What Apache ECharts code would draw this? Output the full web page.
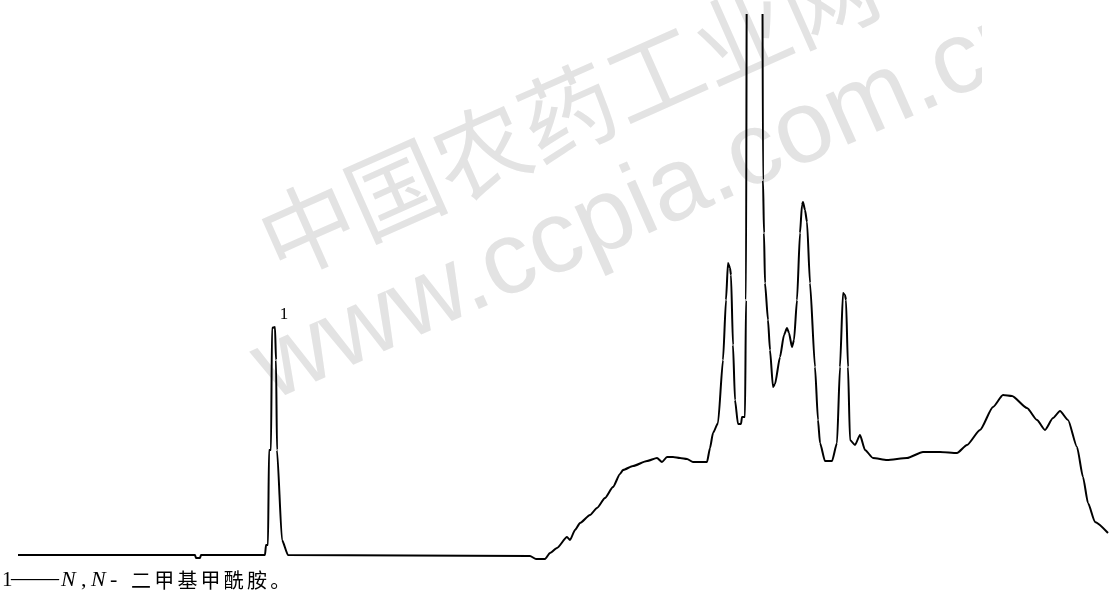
<!DOCTYPE html>
<html>
<head>
<meta charset="utf-8">
<style>
  html, body { margin: 0; padding: 0; background: #fff; }
  #chart { width: 1109px; height: 601px; }
</style>
<script src="https://cdn.jsdelivr.net/npm/echarts@6/dist/echarts.min.js"></script>
</head>
<body>
<div id="chart"></div>
<script>
// Chromatogram trace: retention time (arbitrary time units) and detector response.
const retentionTime = [
  0, 2.1, 8.85, 8.9, 9.1, 9.15, 11.6, 12.35, 12.4, 12.5, 12.55, 12.65, 12.7, 12.85,
  12.9, 12.95, 13.2, 13.5, 25.6, 25.9, 26.35, 26.6, 26.95, 27.45, 27.6, 27.85, 28.1,
  28.6, 28.95, 29.35, 29.75, 30.1, 30.25, 30.75, 31.45, 31.95, 32.2, 32.45, 32.75,
  33.1, 33.45, 33.75, 34.1, 34.45, 34.6, 34.75, 35.0, 35.25, 35.4, 35.5, 35.6, 35.65,
  35.75, 35.85, 36.0, 36.15, 36.2, 36.35, 36.4, 36.45, 36.55, 37.2, 37.25, 37.3,
  37.35, 37.5, 37.6, 37.75, 37.85, 38.1, 38.3, 38.45, 38.55, 38.7, 38.8, 38.95, 39.1,
  39.2, 39.25, 39.35, 39.45, 39.6, 39.85, 40.0, 40.1, 40.35, 40.7, 40.95, 41.1, 41.25,
  41.35, 41.4, 41.5, 41.6, 41.85, 42.1, 42.35, 42.75, 43.45, 44.45, 45.25, 46.1, 46.95,
  47.45, 48.1, 48.75, 49.25, 49.7, 50.45, 50.95, 51.35, 51.75, 52.1, 52.5, 52.95,
  53.25, 53.5, 53.85, 54.5
];
const response = [
  1.0, 1.0, 1.0, 0.4, 0.4, 1.0, 1.0, 1.0, 3.0, 3.0, 22.0, 22.0, 46.4, 46.6,
  40.0, 22.0, 4.0, 1.0, 0.8, 0.2, 0.2, 1.4, 2.4, 4.6, 4.0, 6.0, 7.4,
  9.0, 10.4, 12.4, 14.6, 17.2, 18.0, 18.8, 19.8, 20.4, 19.6, 20.6, 20.6,
  20.4, 20.2, 19.6, 19.6, 19.6, 22.4, 25.4, 27.4, 40.0, 52.0, 59.4, 58.4, 57.0,
  43.0, 32.0, 27.2, 27.2, 28.6, 28.6, 52.0, 140, 150, 150, 76.0, 65.4,
  55.4, 48.0, 42.0, 34.6, 35.2, 40.6, 45.0, 46.4, 45.4, 42.6, 44.0, 52.0, 65.4,
  71.0, 71.6, 70.0, 67.6, 55.4, 38.6, 28.0, 23.4, 19.8, 19.8, 23.4, 38.6, 53.4,
  53.0, 52.0, 38.6, 24.0, 23.0, 25.0, 22.0, 20.4, 20.0, 20.4, 21.6, 21.6, 21.4,
  23.0, 26.0, 30.6, 33.0, 32.8, 30.4, 28.0, 26.0, 28.4, 29.8, 28.0, 22.6,
  16.6, 11.4, 7.6, 5.4
];

// Peak annotation
const peakLabels = ['1'];
const peakTimes = [12.85];
const peakHeights = [46.6];

// Caption below the trace: peak number, dash, italic locants, compound name
const captionNumber = '1';
const captionDash = '——';
const captionLocant = 'N';
const captionCompound = '二甲基甲酰胺。';

// Site mark across the plot
const siteName = '中国农药工业网';
const siteUrl = 'www.ccpia.com.cn';

const chart = echarts.init(document.getElementById('chart'), null, { renderer: 'canvas' });

const trace = retentionTime.map((t, i) => [t, response[i]]);
const tilt = 24 * Math.PI / 180;

function textEl(x, y, text, font, extra) {
  return Object.assign({
    type: 'text', x: x, y: y, z: 10, silent: true,
    style: {
      text: text, font: font, fill: '#000',
      textVerticalAlign: 'middle', verticalAlign: 'middle'
    }
  }, extra || {});
}

// caption pieces
const caption = [
  textEl(2, 580, captionNumber, '21px "Liberation Serif"'),
  textEl(11, 579, captionDash, '24px "Liberation Serif"'),
  textEl(61, 580, captionLocant, 'italic 22px "Liberation Serif"'),
  textEl(81, 580, ',', '22px "Liberation Serif"'),
  textEl(91, 580, captionLocant, 'italic 22px "Liberation Serif"'),
  textEl(110, 580, '-', '22px "Liberation Serif"')
];
Array.from(captionCompound).forEach((ch, i) => {
  caption.push(textEl(131 + i * 23.2, 580, ch, '20px "Noto Sans CJK SC"'));
});

chart.setOption({
  animation: false,
  backgroundColor: '#ffffff',
  grid: { left: 18, right: 1, top: 15, bottom: 41 },
  xAxis: { type: 'value', min: 0, max: 54.5, show: false },
  yAxis: { type: 'value', min: 0, max: 109, show: false },
  graphic: [
    {
      type: 'text', x: 568, y: 112, rotation: tilt, z: 0, silent: true,
      style: {
        text: siteName,
        font: '95px "Noto Sans CJK SC"',
        fill: '#e3e3e3',
        textAlign: 'center', textVerticalAlign: 'middle',
        align: 'center', verticalAlign: 'middle'
      }
    },
    {
      type: 'text', x: 647, y: 203, rotation: tilt, z: 0, silent: true,
      style: {
        text: siteUrl,
        font: '103px "Liberation Sans"',
        fill: '#e3e3e3',
        textAlign: 'center', textVerticalAlign: 'middle',
        align: 'center', verticalAlign: 'middle'
      }
    },
    // the site mark stops at a hard right edge
    {
      type: 'rect', z: 1, silent: true,
      shape: { x: 982, y: 0, width: 127, height: 200 },
      style: { fill: '#ffffff' }
    }
  ].concat(caption),
  series: [
    {
      type: 'line',
      data: trace,
      showSymbol: false,
      symbol: 'none',
      clip: true,
      smooth: 0.2,
      smoothMonotone: 'x',
      z: 5,
      lineStyle: { color: '#000', width: 2, join: 'round' },
      markPoint: {
        symbol: 'circle',
        symbolSize: 0,
        silent: true,
        data: peakLabels.map((lab, i) => ({
          coord: [peakTimes[i], peakHeights[i]],
          value: lab
        })),
        label: {
          show: true,
          formatter: p => p.value,
          position: 'top',
          offset: [9, 1],
          color: '#000',
          fontFamily: 'Liberation Serif',
          fontSize: 17
        }
      }
    }
  ]
});
</script>
</body>
</html>
